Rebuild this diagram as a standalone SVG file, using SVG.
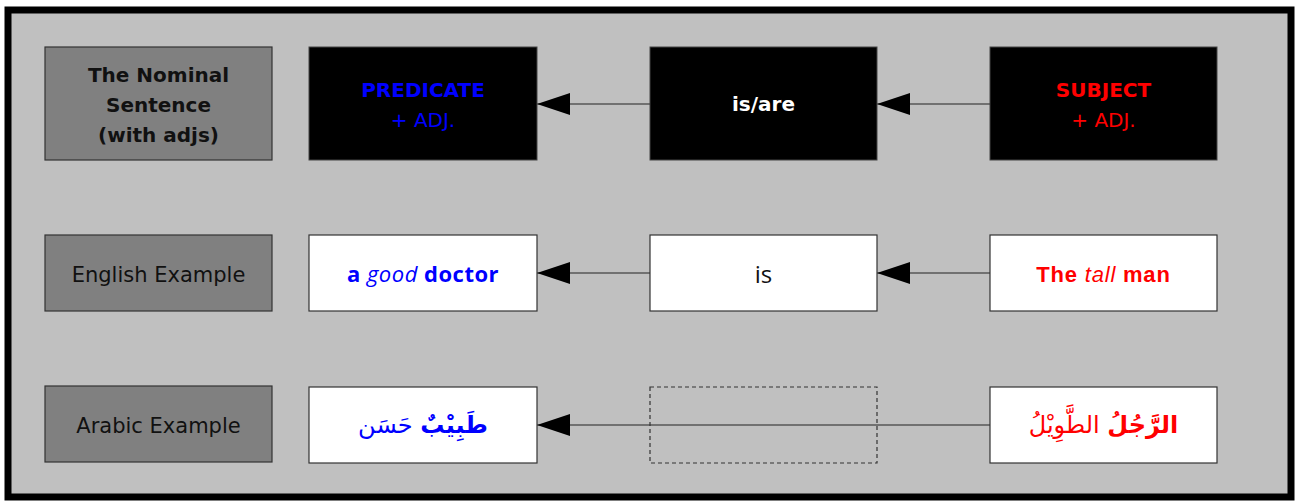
<svg xmlns="http://www.w3.org/2000/svg" width="1297" height="501" viewBox="0 0 1297 501">
<style>
.lbl{fill:#808080;stroke:#333;stroke-width:1.2}
.dark{fill:#000;stroke:#444;stroke-width:1}
.white{fill:#fff;stroke:#333;stroke-width:1.2}
.dash{fill:none;stroke:#333;stroke-width:1.2;stroke-dasharray:4,3}
.conn{stroke:#222;stroke-width:1.2;fill:none;marker-end:url(#ah)}
text{font-family:"DejaVu Sans",sans-serif;text-anchor:middle}
.t20{font-size:20px}
.b{font-weight:bold}
.en{font-family:"Open Sans","DejaVu Sans",sans-serif;font-size:22px;letter-spacing:0.5px}
.is{font-family:"Open Sans","DejaVu Sans",sans-serif;font-size:24px}
.red{font-family:"Liberation Sans",Arial,sans-serif;font-size:22px;letter-spacing:0.8px;fill:#ff0000}
.ar{font-family:"DejaVu Sans",serif;font-size:24px}
</style>
<defs>
<marker id="ah" markerUnits="userSpaceOnUse" markerWidth="34" markerHeight="24" refX="33" refY="11" orient="auto">
<path d="M0,0 L33,11 L0,22 Z" fill="#000"/>
</marker>
</defs>
<rect x="8" y="10" width="1283" height="487" fill="#c0c0c0" stroke="#000" stroke-width="7"/>

<g id="connectors">
<line class="conn" x1="650" y1="104" x2="537" y2="104"/>
<line class="conn" x1="990" y1="104" x2="877" y2="104"/>
<line class="conn" x1="650" y1="273" x2="537" y2="273"/>
<line class="conn" x1="990" y1="273" x2="877" y2="273"/>
<line class="conn" x1="990" y1="425" x2="537" y2="425"/>
</g>

<g id="label-nominal">
<rect class="lbl" x="45" y="47" width="227" height="113"/>
<text class="t20 b" x="158.5" y="82" fill="#111">The Nominal</text>
<text class="t20 b" x="158.5" y="112" fill="#111">Sentence</text>
<text class="t20 b" x="158.5" y="142" fill="#111">(with adjs)</text>
</g>
<g id="predicate">
<rect class="dark" x="309" y="47" width="228" height="113"/>
<text class="t20 b" x="423" y="97" fill="#0000ff">PREDICATE</text>
<text class="t20" x="423" y="127" fill="#0000ff">+ ADJ.</text>
</g>
<g id="isare">
<rect class="dark" x="650" y="47" width="227" height="113"/>
<text class="t20 b" x="763.5" y="111" fill="#fff">is/are</text>
</g>
<g id="subject">
<rect class="dark" x="990" y="47" width="227" height="113"/>
<text class="t20 b" x="1103.5" y="97" fill="#ff0000">SUBJECT</text>
<text class="t20" x="1103.5" y="127" fill="#ff0000">+ ADJ.</text>
</g>

<g id="label-english">
<rect class="lbl" x="45" y="235" width="227" height="76"/>
<text x="158.5" y="282" style="font-size:21px" fill="#111">English Example</text>
</g>
<g id="en-predicate">
<rect class="white" x="309" y="235" width="228" height="76"/>
<text class="en" x="423" y="282" fill="#0000ff"><tspan font-weight="bold">a </tspan><tspan font-style="italic">good</tspan><tspan font-weight="bold"> doctor</tspan></text>
</g>
<g id="en-is">
<rect class="white" x="650" y="235" width="227" height="76"/>
<text class="is" x="763.5" y="283" fill="#111">is</text>
</g>
<g id="en-subject">
<rect class="white" x="990" y="235" width="227" height="76"/>
<text class="red" x="1103.5" y="282"><tspan font-weight="bold">The </tspan><tspan font-style="italic">tall</tspan><tspan font-weight="bold"> man</tspan></text>
</g>

<g id="label-arabic">
<rect class="lbl" x="45" y="386" width="227" height="76"/>
<text x="158.5" y="433" style="font-size:21px" fill="#111">Arabic Example</text>
</g>
<g id="ar-predicate">
<rect class="white" x="309" y="387" width="228" height="76"/>
<text class="ar" x="423" y="433" fill="#0000ff" direction="rtl"><tspan font-weight="bold">طَبِيْبٌ</tspan> <tspan>حَسَن</tspan></text>
</g>
<g id="ar-empty">
<rect class="dash" x="650" y="387" width="227" height="76"/>
</g>
<g id="ar-subject">
<rect class="white" x="990" y="387" width="227" height="76"/>
<text class="ar" x="1103.5" y="433" fill="#ff0000" direction="rtl"><tspan font-weight="bold">الرَّجُلُ</tspan> <tspan>الطَّوِيْلُ</tspan></text>
</g>
</svg>
